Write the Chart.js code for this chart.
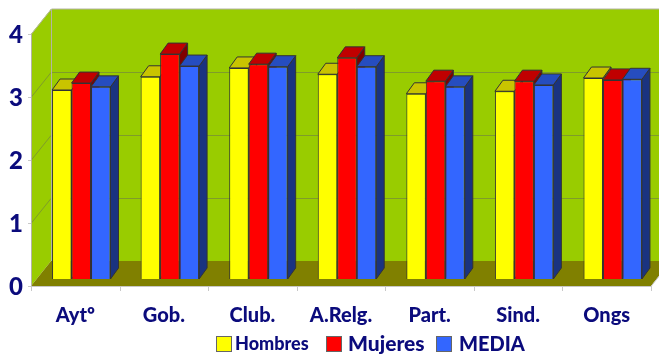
<!DOCTYPE html>
<html>
<head>
<meta charset="utf-8">
<script src="https://cdn.jsdelivr.net/npm/chart.js@4"></script>
<style>
    html, body { margin: 0; padding: 0; background: #fff; overflow: hidden; }
    #wrap { position: relative; width: 659px; height: 355px; }
    #legend { position: absolute; top: 0; left: 0; font-family: Lato, sans-serif; font-weight: 900; color: #0b0b7c; }
    #legend i { position: absolute; top: 336px; width: 14px; height: 14px; border: 1px solid #666; }
    #legend span { position: absolute; top: 333px; line-height: 20px; white-space: nowrap; }
</style>
</head>
<body>
<div id="wrap">
    <canvas id="chart" width="659" height="355"></canvas>
    <div id="legend">
        <i style="left:216px;background:#ffff00"></i><span style="left:235px;font-size:18px">Hombres</span>
        <i style="left:326px;background:#ff0000"></i><span style="left:348px;font-size:21px">Mujeres</span>
        <i style="left:436px;background:#3366ff"></i><span style="left:459px;font-size:20px">MEDIA</span>
    </div>
</div>
<script>
// values
const categories = ['Aytº', 'Gob.', 'Club.', 'A.Relg.', 'Part.', 'Sind.', 'Ongs'];
const hombres = [3.0, 3.21, 3.35, 3.25, 2.94, 2.98, 3.19];
const mujeres = [3.11, 3.57, 3.41, 3.51, 3.14, 3.14, 3.16];
const media = [3.05, 3.38, 3.37, 3.37, 3.05, 3.08, 3.17];
const yTicks = [0, 1, 2, 3, 4];

const NAVY = '#0b0b7c';
const WALL_DX = 20, WALL_DY = -25;   // depth of the box
const BAR_DX = 6, BAR_DY = -7;       // bars stand inside the box
const DEPTH_X = 8, DEPTH_Y = -11;    // depth of each bar

function poly(ctx, pts, fill, stroke) {
    ctx.beginPath();
    pts.forEach((p, i) => i ? ctx.lineTo(p[0], p[1]) : ctx.moveTo(p[0], p[1]));
    ctx.closePath();
    ctx.fillStyle = fill;
    ctx.fill();
    if (stroke) {
        ctx.strokeStyle = stroke;
        ctx.lineWidth = 1;
        ctx.stroke();
    }
}

// green walls, olive floor, grid lines, then the bars left to right
const box3d = {
    id: 'box3d',
    beforeDatasetsDraw(chart) {
        const ctx = chart.ctx;
        const { left, right, top, bottom } = chart.chartArea;
        const y = chart.scales.y;
        const far = 700;
        ctx.save();
        poly(ctx, [[left + WALL_DX, top + WALL_DY], [far, top + WALL_DY], [far, bottom + WALL_DY], [left + WALL_DX, bottom + WALL_DY]], '#99cc00');
        poly(ctx, [[left, top], [left + WALL_DX, top + WALL_DY], [left + WALL_DX, bottom + WALL_DY], [left, bottom]], '#99cc00');
        poly(ctx, [[left, bottom], [left + WALL_DX, bottom + WALL_DY], [right + WALL_DX, bottom + WALL_DY], [right, bottom]], '#808000');

        ctx.lineWidth = 1;
        ctx.strokeStyle = '#7f9c2a';
        yTicks.slice(1, 4).forEach(v => {
            const py = Math.round(y.getPixelForValue(v)) + 0.5;
            ctx.beginPath();
            ctx.moveTo(left, py);
            ctx.lineTo(left + WALL_DX, py + WALL_DY);
            ctx.lineTo(far, py + WALL_DY);
            ctx.stroke();
        });

        ctx.strokeStyle = '#b4b4a4';
        ctx.beginPath();
        ctx.moveTo(left + 0.5, bottom);
        ctx.lineTo(left + 0.5, top);
        ctx.lineTo(left + WALL_DX + 0.5, top + WALL_DY);
        ctx.lineTo(far, top + WALL_DY);
        ctx.moveTo(left + WALL_DX + 0.5, top + WALL_DY);
        ctx.lineTo(left + WALL_DX + 0.5, bottom + WALL_DY);
        ctx.stroke();

        // axis lines and tick marks
        ctx.strokeStyle = '#c8c8c8';
        ctx.beginPath();
        ctx.moveTo(left, bottom + 0.5);
        ctx.lineTo(right, bottom + 0.5);
        ctx.lineTo(right + WALL_DX, bottom + WALL_DY);
        for (let i = 0; i <= categories.length; i++) {
            const tx = Math.round(left + (right - left) * i / categories.length) + 0.5;
            ctx.moveTo(tx, bottom);
            ctx.lineTo(tx, bottom + 5);
        }
        yTicks.forEach(v => {
            const py = Math.round(y.getPixelForValue(v)) + 0.5;
            ctx.moveTo(left - 3, py);
            ctx.lineTo(left, py);
        });
        ctx.stroke();
        ctx.restore();
    },
    // default draw goes last dataset first, which is the wrong overlap here
    beforeDatasetDraw() {
        return false;
    },
    afterDatasetsDraw(chart) {
        const ctx = chart.ctx;
        ctx.save();
        ctx.translate(BAR_DX, BAR_DY);
        chart.data.datasets.forEach((ds, i) => {
            chart.getDatasetMeta(i).data.forEach(bar => {
                const l = bar.x - bar.width / 2, r = bar.x + bar.width / 2;
                poly(ctx, [[r, bar.y], [r + DEPTH_X, bar.y + DEPTH_Y], [r + DEPTH_X, bar.base + DEPTH_Y], [r, bar.base]], ds.sideColor, '#333');
                poly(ctx, [[l, bar.y], [l + DEPTH_X, bar.y + DEPTH_Y], [r + DEPTH_X, bar.y + DEPTH_Y], [r, bar.y]], ds.topColor, '#333');
                bar.draw(ctx);
            });
        });
        ctx.restore();
    }
};

new Chart(document.getElementById('chart'), {
    type: 'bar',
    plugins: [box3d],
    data: {
        labels: categories,
        datasets: [
            { label: 'Hombres', data: hombres, backgroundColor: '#ffff00', topColor: '#c9c400', sideColor: '#a09c00' },
            { label: 'Mujeres', data: mujeres, backgroundColor: '#ff0000', topColor: '#c00000', sideColor: '#800000' },
            { label: 'MEDIA', data: media, backgroundColor: '#3366ff', topColor: '#264dbf', sideColor: '#1a3380' }
        ].map(d => ({ ...d, borderColor: '#333', borderWidth: 1, barPercentage: 1, categoryPercentage: 0.66 }))
    },
    options: {
        responsive: false,
        animation: false,
        layout: { padding: { top: 34, right: 8, left: 0, bottom: 0 } },
        plugins: { legend: { display: false }, tooltip: { enabled: false } },
        scales: {
            x: {
                grid: { display: false },
                border: { display: false },
                ticks: { color: NAVY, font: { family: 'Lato', size: 20, weight: '900' }, padding: 10, maxRotation: 0 },
                afterFit(s) { s.height = 69; }
            },
            y: {
                min: 0,
                max: 4,
                grid: { display: false },
                border: { display: false },
                ticks: { stepSize: 1, color: NAVY, font: { family: 'Lato', size: 24, weight: '900' }, padding: 0, labelOffset: 1 },
                afterFit(s) { s.width = 31; }
            }
        }
    }
});
</script>
</body>
</html>
